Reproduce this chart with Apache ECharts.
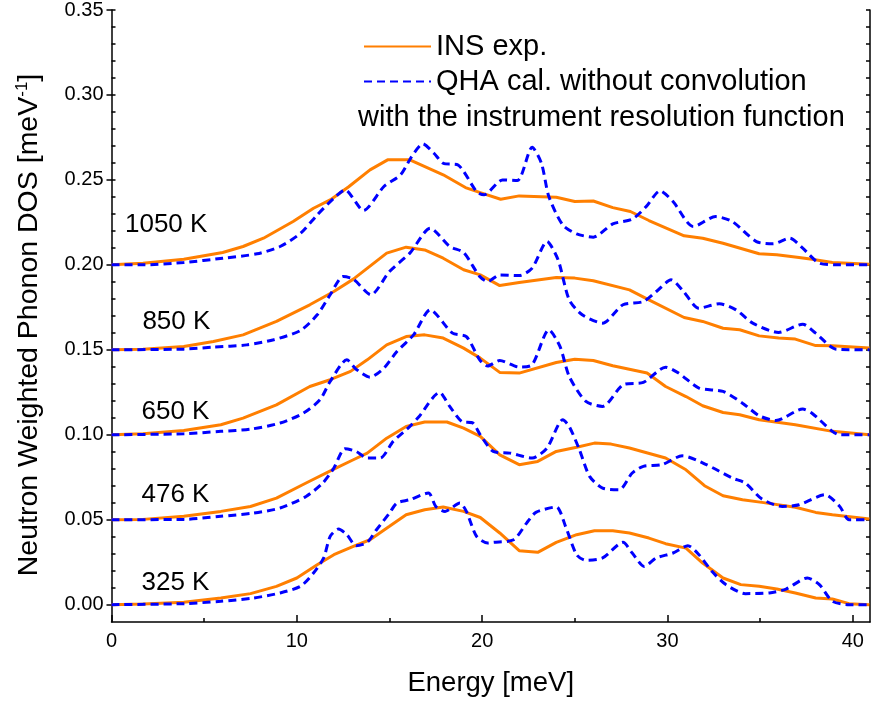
<!DOCTYPE html>
<html>
<head>
<meta charset="utf-8">
<script src="https://cdn.jsdelivr.net/npm/echarts@6/dist/echarts.min.js"></script>
<style>
html,body{margin:0;padding:0;background:#fff;}
#chart{width:872px;height:702px;}
</style>
</head>
<body>
<div id="chart"></div>
<script>
// ---- data (plotted values, offsets included) ----
const temperatures = ['325 K', '476 K', '650 K', '850 K', '1050 K'];
const labelPositions = [[3.45, 0.0127], [3.45, 0.0647], [3.45, 0.1137], [3.5, 0.1667], [2.95, 0.2237]];

const ins325 = [[0,0],[1.7,0.0004],[3.9,0.0014],[5.9,0.0039],[7.5,0.0065],[8.9,0.0108],[10.0,0.0157],[11.1,0.0235],[12.0,0.0294],[13.05,0.0343],[13.95,0.0382],[15.0,0.0461],[15.9,0.0529],[16.9,0.0559],[17.9,0.0575],[19.0,0.0549],[19.9,0.0513],[20.95,0.0422],[22.0,0.0318],[23.0,0.0308],[24.0,0.0367],[25.1,0.0412],[26.06,0.0435],[27.05,0.0435],[27.95,0.0422],[29.0,0.0392],[29.9,0.0359],[31.0,0.0333],[31.9,0.0245],[33.0,0.0157],[33.96,0.0118],[34.95,0.0108],[35.9,0.0092],[36.9,0.0069],[38.0,0.0039],[38.9,0.0033],[39.8,0.0006],[40.9,0]];
const qha325 = [[0,0],[3.9,0.0006],[5.9,0.002],[7.66,0.0039],[9.1,0.0069],[10.2,0.0108],[10.9,0.0186],[11.45,0.0275],[11.8,0.0402],[12.25,0.0445],[12.7,0.0412],[13.2,0.0347],[13.8,0.0367],[14.3,0.0441],[15.0,0.0539],[15.4,0.0598],[16.1,0.0618],[17.1,0.0657],[17.5,0.0578],[18.0,0.0549],[18.8,0.0598],[19.15,0.0549],[19.7,0.0402],[20.3,0.0363],[20.6,0.0367],[21.7,0.0382],[22.4,0.048],[22.9,0.0543],[24.0,0.0575],[24.5,0.0461],[25.1,0.0294],[25.6,0.0261],[26.5,0.0275],[27.6,0.0367],[28.1,0.0304],[28.75,0.0225],[29.4,0.0275],[30.3,0.0304],[31.1,0.0347],[31.7,0.0294],[32.4,0.0196],[33.15,0.0118],[34.2,0.0065],[35.5,0.0069],[36.4,0.0092],[37.55,0.0157],[38.2,0.0118],[38.9,0.002],[39.8,0],[40.9,0]];

const ins476 = [[0,0.05],[1.7,0.0502],[3.9,0.052],[5.9,0.0549],[7.5,0.0578],[8.9,0.0627],[10.5,0.0716],[12.0,0.0798],[13.05,0.0853],[13.8,0.0892],[14.85,0.098],[15.9,0.1049],[16.9,0.1075],[18.1,0.1075],[19.0,0.1039],[19.9,0.099],[20.95,0.0882],[22.0,0.0824],[23.0,0.0843],[24.0,0.0902],[25.1,0.0927],[26.06,0.0951],[26.96,0.0945],[27.95,0.0922],[29.9,0.0863],[31.0,0.0794],[32.0,0.07],[33.0,0.0641],[34.05,0.0618],[35.1,0.0602],[36.9,0.0573],[38.0,0.0543],[38.9,0.0529],[40.9,0.0504]];
const qha476 = [[0,0.05],[3.9,0.0502],[5.9,0.052],[7.66,0.0539],[9.1,0.0569],[10.5,0.0637],[11.4,0.0716],[12.0,0.0804],[12.6,0.0918],[13.2,0.0902],[13.8,0.0863],[14.5,0.0863],[15.2,0.0961],[16.1,0.1049],[16.6,0.1108],[17.7,0.1249],[18.25,0.1167],[18.9,0.1078],[19.5,0.1069],[19.9,0.1],[20.6,0.0902],[21.5,0.0892],[22.7,0.0863],[23.5,0.0922],[24.35,0.1088],[24.7,0.1049],[25.25,0.0912],[25.8,0.0755],[26.5,0.0686],[27.4,0.0676],[28.1,0.0775],[28.7,0.0814],[29.7,0.0824],[30.8,0.0876],[32.1,0.0824],[33.5,0.0745],[34.2,0.0716],[35.1,0.0622],[36.2,0.0578],[37.1,0.0588],[38.5,0.0647],[39.3,0.0578],[39.8,0.05],[40.9,0.05]];

const ins650 = [[0,0.1],[1.7,0.1006],[3.9,0.1025],[5.9,0.1059],[7.1,0.1098],[8.9,0.1176],[10.7,0.1284],[11.8,0.1324],[12.9,0.1373],[13.8,0.1441],[14.85,0.1529],[15.9,0.1578],[16.9,0.1588],[17.9,0.1569],[19.0,0.151],[19.9,0.1451],[20.95,0.1367],[22.0,0.1363],[24.0,0.1425],[25.0,0.1445],[26.0,0.1437],[27.05,0.1406],[28.9,0.1363],[29.9,0.1284],[31.0,0.1225],[31.9,0.1171],[33.0,0.1131],[33.9,0.1118],[34.95,0.1088],[36.9,0.1059],[38.9,0.102],[40.9,0.1]];
const qha650 = [[0,0.1],[3.9,0.1006],[5.9,0.102],[7.5,0.1033],[9.1,0.1069],[10.35,0.1127],[11.25,0.1206],[11.8,0.1314],[12.7,0.1441],[13.2,0.1386],[13.95,0.1339],[14.7,0.1392],[15.4,0.149],[16.3,0.1588],[17.2,0.1735],[18.4,0.1598],[19.15,0.1578],[19.87,0.1441],[20.3,0.1405],[20.95,0.1437],[22.0,0.1398],[22.7,0.1412],[23.6,0.1618],[24.2,0.152],[24.7,0.1343],[25.6,0.1196],[26.5,0.1167],[27.6,0.1294],[28.7,0.1308],[29.9,0.1398],[30.6,0.1363],[31.7,0.1275],[33.0,0.1255],[34.05,0.1186],[34.95,0.1112],[35.85,0.1084],[37.3,0.1151],[37.8,0.1127],[38.9,0.102],[39.3,0.1],[40.9,0.1]];

const ins850 = [[0,0.15],[1.7,0.1504],[3.9,0.152],[5.5,0.1549],[7.1,0.1588],[8.9,0.1667],[10.7,0.1765],[12.0,0.1843],[13.05,0.1916],[14.85,0.2069],[15.9,0.2104],[16.9,0.2088],[17.9,0.2039],[19.0,0.1971],[19.9,0.1941],[20.95,0.1878],[22.0,0.1896],[24.0,0.1925],[25.0,0.1922],[26.0,0.1906],[27.95,0.1853],[29.0,0.1794],[30.9,0.169],[31.9,0.1667],[33.0,0.1627],[33.9,0.1618],[34.95,0.1582],[36.0,0.1569],[36.9,0.1563],[38.0,0.1525],[38.9,0.1524],[40.9,0.151]];
const qha850 = [[0,0.15],[3.9,0.1504],[5.5,0.1516],[7.3,0.1529],[8.75,0.1559],[10.2,0.1614],[11.1,0.1706],[11.8,0.1824],[12.5,0.1931],[13.05,0.1916],[14.0,0.1824],[15.0,0.1961],[16.1,0.2069],[17.2,0.2216],[18.25,0.2108],[19.0,0.2073],[19.87,0.1931],[20.3,0.1902],[20.95,0.1941],[22.0,0.1937],[22.7,0.1981],[23.5,0.2137],[24.1,0.2029],[24.7,0.1794],[25.4,0.1706],[26.5,0.1657],[27.6,0.1765],[28.7,0.1784],[29.4,0.1843],[30.2,0.1912],[30.8,0.1853],[31.7,0.1745],[32.8,0.1771],[33.7,0.1735],[34.6,0.1657],[36.0,0.1602],[37.3,0.1651],[38.0,0.1598],[39.1,0.1504],[40.9,0.15]];

const ins1050 = [[0,0.2],[1.7,0.201],[3.9,0.2033],[6.0,0.2073],[7.1,0.2108],[8.2,0.2157],[9.8,0.2255],[10.9,0.2333],[11.8,0.2382],[12.8,0.246],[13.95,0.2559],[14.9,0.2618],[16.1,0.2618],[17.9,0.253],[19.1,0.2455],[19.9,0.2425],[21.0,0.2386],[22.0,0.2406],[24.0,0.2398],[25.0,0.2373],[26.0,0.2376],[27.05,0.2337],[28.0,0.2314],[29.0,0.2261],[30.9,0.2171],[31.9,0.2157],[33.0,0.2127],[34.95,0.2065],[35.9,0.2059],[37.1,0.2043],[37.8,0.2033],[38.9,0.2014],[40.9,0.2004]];
const qha1050 = [[0,0.2],[1.7,0.2],[3.9,0.2014],[6.0,0.2039],[7.85,0.2065],[9.1,0.2108],[10.2,0.2186],[11.1,0.2294],[12.0,0.2392],[12.6,0.2441],[13.6,0.232],[14.7,0.2461],[15.6,0.253],[16.2,0.2637],[16.8,0.2712],[17.4,0.2657],[17.9,0.2598],[18.7,0.2588],[19.7,0.2431],[20.1,0.2412],[21.1,0.25],[21.9,0.2496],[22.7,0.2692],[23.2,0.2598],[23.6,0.2402],[24.35,0.2235],[25.1,0.2182],[26.0,0.2163],[27.05,0.2241],[28.1,0.2269],[28.85,0.2343],[29.6,0.2435],[30.3,0.2373],[31.4,0.2225],[32.6,0.2284],[33.5,0.2255],[34.8,0.2137],[35.7,0.2124],[36.6,0.2157],[37.3,0.2098],[38.2,0.201],[39.3,0.2],[40.9,0.2]];

const insSets = [ins325, ins476, ins650, ins850, ins1050];
const qhaSets = [qha325, qha476, qha650, qha850, qha1050];

const xTicks = [0, 10, 20, 30, 40];
const xMinorTicks = [5, 15, 25, 35];
const yTicks = [0, 0.05, 0.10, 0.15, 0.20, 0.25, 0.30, 0.35];
const yMinorTicks = [0,0.01,0.02,0.03,0.04,0.05,0.06,0.07,0.08,0.09,0.10,0.11,0.12,0.13,0.14,0.15,0.16,0.17,0.18,0.19,0.20,0.21,0.22,0.23,0.24,0.25,0.26,0.27,0.28,0.29,0.30,0.31,0.32,0.33,0.34,0.35];

const insName = 'INS exp.';
const qhaName = 'QHA cal. without convolution';
const legendExtra = 'with the instrument resolution function';

// ---- chart ----
const FONT = '"Liberation Sans", Arial, sans-serif';
const X_MIN = 0, X_MAX = 40.93, Y_MIN = -0.0102, Y_MAX = 0.35;
const ORANGE = '#ff7f00', BLUE = '#0000ff';

const chart = echarts.init(document.getElementById('chart'), null, {renderer: 'canvas'});

const series = [];
insSets.forEach((d) => series.push({
  name: insName, type: 'line', data: d, symbol: 'none', xAxisIndex: 0, yAxisIndex: 0,
  lineStyle: {color: ORANGE, width: 3}, itemStyle: {color: ORANGE}, z: 2, silent: true
}));
qhaSets.forEach((d) => series.push({
  name: qhaName, type: 'line', data: d, symbol: 'none', smooth: 0.25, xAxisIndex: 0, yAxisIndex: 0,
  lineStyle: {color: BLUE, width: 3, type: [8, 5]}, itemStyle: {color: BLUE}, z: 3, silent: true
}));
series.push({
  name: 'labels', type: 'scatter', symbolSize: 0, silent: true, xAxisIndex: 0, yAxisIndex: 0,
  itemStyle: {opacity: 1, color: '#000'},
  data: labelPositions.map((p, i) => [p[0], p[1], temperatures[i]]),
  label: {show: true, position: 'inside', formatter: (p) => p.data[2], color: '#000', opacity: 1,
    textBorderWidth: 0, fontSize: 26, fontFamily: FONT},
  z: 4
});

const gridCfg = {left: 111.5, right: 2, top: 9, bottom: 80};
const yBase = {type: 'value', min: Y_MIN, max: Y_MAX, splitLine: {show: false}};
const xBase = {type: 'value', min: X_MIN, max: X_MAX, splitLine: {show: false}, position: 'bottom'};

chart.setOption({
  animation: false,
  backgroundColor: '#fff',
  grid: gridCfg,
  legend: {
    data: [insName, qhaName], orient: 'vertical', left: 358, top: 27,
    itemWidth: 67, itemHeight: 14, itemGap: 6, selectedMode: false,
    itemStyle: {opacity: 0, borderWidth: 0},
    textStyle: {fontSize: 29, fontFamily: FONT, color: '#000'}
  },
  graphic: [{
    type: 'text', left: 358, top: 103,
    style: {text: legendExtra, fontSize: 29, fontFamily: FONT, fill: '#000'}
  }],
  xAxis: [
    Object.assign({}, xBase, {
      name: 'Energy [meV]', nameLocation: 'middle', nameGap: 47,
      nameTextStyle: {fontSize: 27.5, fontFamily: FONT, color: '#000'},
      axisLine: {show: true, onZero: false, lineStyle: {color: '#000', width: 1.5}},
      axisTick: {show: true, inside: true, length: 7, customValues: xTicks, lineStyle: {color: '#000', width: 1.5}},
      axisLabel: {show: true, customValues: xTicks, margin: 9, fontSize: 20, fontFamily: FONT, color: '#000'}
    }),
    Object.assign({}, xBase, {
      axisLine: {show: false, onZero: false},
      axisTick: {show: true, inside: true, length: 4, customValues: xMinorTicks, lineStyle: {color: '#000', width: 1.5}},
      axisLabel: {show: false}
    })
  ],
  yAxis: [
    Object.assign({}, yBase, {
      position: 'left',
      name: 'Neutron Weighted Phonon DOS [meV{sup|-1}]', nameLocation: 'middle', nameGap: 66,
      nameTextStyle: {fontSize: 28.5, fontFamily: FONT, color: '#000', padding: [0, 18, 0, 0],
        rich: {sup: {fontSize: 17, fontFamily: FONT, color: '#000', verticalAlign: 'top', lineHeight: 32}}},
      axisLine: {show: true, onZero: false, lineStyle: {color: '#000', width: 1.5}},
      axisTick: {show: true, inside: true, length: 4, customValues: yMinorTicks, lineStyle: {color: '#000', width: 1.5}},
      axisLabel: {show: true, customValues: yTicks, margin: 8, fontSize: 20, fontFamily: FONT, color: '#000',
        formatter: (v) => v.toFixed(2)}
    }),
    Object.assign({}, yBase, {
      position: 'left',
      axisLine: {show: false, onZero: false},
      axisTick: {show: true, inside: false, length: 5, customValues: yTicks, lineStyle: {color: '#000', width: 1.5}},
      axisLabel: {show: false}
    }),
    Object.assign({}, yBase, {
      position: 'right',
      axisLine: {show: true, onZero: false, lineStyle: {color: '#000', width: 1.5}},
      axisTick: {show: true, inside: true, length: 4, customValues: yMinorTicks, lineStyle: {color: '#000', width: 1.5}},
      axisLabel: {show: false}
    })
  ],
  series: series
});
</script>
</body>
</html>
